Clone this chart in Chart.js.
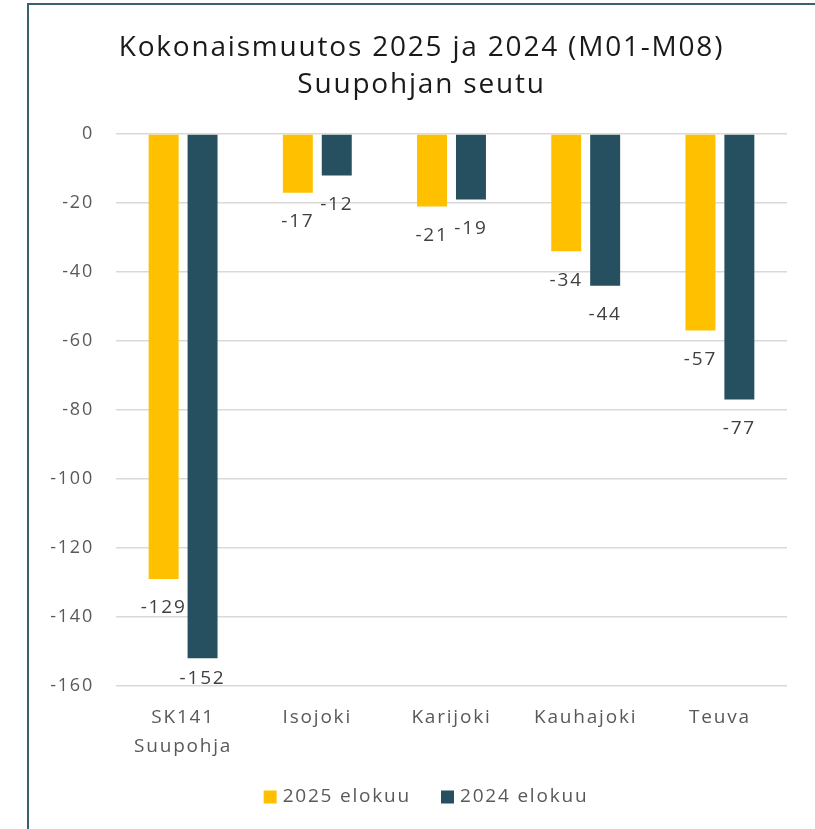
<!DOCTYPE html>
<html>
<head>
<meta charset="utf-8">
<script src="https://cdn.jsdelivr.net/npm/chart.js@4.4.1/dist/chart.umd.min.js"></script>
<style>
  html, body { margin: 0; padding: 0; background: #ffffff; }
  #wrap { position: relative; width: 815px; height: 829px; overflow: hidden; }
  #frame { position: absolute; left: 27px; top: 3px; width: 900px; height: 900px;
           border-left: 2px solid #3b6171; border-top: 2px solid #3b6171; box-sizing: border-box; }
  #c { position: absolute; left: 0; top: 0; }
</style>
</head>
<body>
<div id="wrap">
  <div id="frame"></div>
  <canvas id="c" width="815" height="829"></canvas>
</div>
<script>
const categories = [['SK141', 'Suupohja'], 'Isojoki', 'Karijoki', 'Kauhajoki', 'Teuva'];
const series2025 = [-129, -17, -21, -34, -57];
const series2024 = [-152, -12, -19, -44, -77];
const seriesNames = ['2025 elokuu', '2024 elokuu'];
const yTicks = [0, -20, -40, -60, -80, -100, -120, -140, -160];
const titleLines = ['Kokonaismuutos 2025 ja 2024 (M01-M08)', 'Suupohjan seutu'];

const FONT = '"Open Sans", Lato, sans-serif';
const SPACING = '1.8px';

const wideText = {
  id: 'wideText',
  beforeLayout(chart) { if ('letterSpacing' in chart.ctx) chart.ctx.letterSpacing = SPACING; },
  beforeDraw(chart) { if ('letterSpacing' in chart.ctx) chart.ctx.letterSpacing = SPACING; }
};

// Title drawn centred inside the framed panel (frame starts at x=28)
const panelTitle = {
  id: 'panelTitle',
  afterDraw(chart) {
    const ctx = chart.ctx;
    ctx.save();
    ctx.font = '28px ' + FONT;
    ctx.fillStyle = '#1a1a1a';
    ctx.textAlign = 'center';
    ctx.textBaseline = 'middle';
    const cx = (28 + chart.width) / 2;
    titleLines.forEach((line, i) => ctx.fillText(line, cx, 48.5 + i * 37));
    ctx.restore();
  }
};

// Legend drawn from the datasets, centred like the reference
const panelLegend = {
  id: 'panelLegend',
  afterDraw(chart) {
    const ctx = chart.ctx;
    ctx.save();
    ctx.font = '19px ' + FONT;
    ctx.textBaseline = 'middle';
    ctx.textAlign = 'left';
    const box = 13, boxGap = 6, itemGap = 30, y = 797;
    const items = chart.data.datasets.map(ds => ({ text: ds.label, color: ds.backgroundColor, w: ctx.measureText(ds.label).width }));
    const total = items.reduce((s, it) => s + box + boxGap + it.w, 0) + itemGap * (items.length - 1);
    let x = 426 - total / 2;
    items.forEach(it => {
      ctx.fillStyle = it.color;
      ctx.fillRect(x, y - box / 2, box, box);
      ctx.fillStyle = '#595959';
      ctx.fillText(it.text, x + box + boxGap, y);
      x += box + boxGap + it.w + itemGap;
    });
    ctx.restore();
  }
};

const valueLabels = {
  id: 'valueLabels',
  afterDatasetsDraw(chart) {
    const ctx = chart.ctx;
    const area = chart.chartArea;
    ctx.save();
    ctx.font = '19px ' + FONT;
    ctx.fillStyle = '#404040';
    ctx.textAlign = 'center';
    ctx.textBaseline = 'middle';
    chart.data.datasets.forEach((ds, di) => {
      const meta = chart.getDatasetMeta(di);
      meta.data.forEach((bar, i) => {
        let y = bar.y + 29;
        if (y > area.bottom - 7) y = area.bottom - 7;
        ctx.fillText(String(ds.data[i]), bar.x, y);
      });
    });
    ctx.restore();
  }
};

new Chart(document.getElementById('c'), {
  type: 'bar',
  data: {
    labels: categories,
    datasets: [
      { label: seriesNames[0], data: series2025, backgroundColor: '#FFC000', borderWidth: 0 },
      { label: seriesNames[1], data: series2024, backgroundColor: '#264F5F', borderWidth: 0 }
    ]
  },
  options: {
    responsive: false,
    animation: false,
    devicePixelRatio: 1,
    categoryPercentage: 0.58,
    barPercentage: 0.77,
    layout: { padding: { left: 28, right: 28, top: 134, bottom: 51 } },
    plugins: {
      title: { display: false },
      legend: { display: false },
      tooltip: { enabled: false }
    },
    scales: {
      x: {
        grid: { display: false, drawTicks: false },
        border: { display: false },
        ticks: { color: '#595959', font: { family: FONT, size: 19, lineHeight: 1.53 }, padding: 17, maxRotation: 0 }
      },
      y: {
        min: -160,
        max: 0,
        afterFit(scale) { scale.width = 88; },
        afterBuildTicks(scale) { scale.ticks = yTicks.map(v => ({ value: v })); },
        grid: { color: '#d9d9d9', lineWidth: 1.5, drawTicks: false },
        border: { display: false },
        ticks: { color: '#595959', font: { family: FONT, size: 18 }, padding: 22 }
      }
    }
  },
  plugins: [wideText, valueLabels, panelTitle, panelLegend]
});
</script>
</body>
</html>
